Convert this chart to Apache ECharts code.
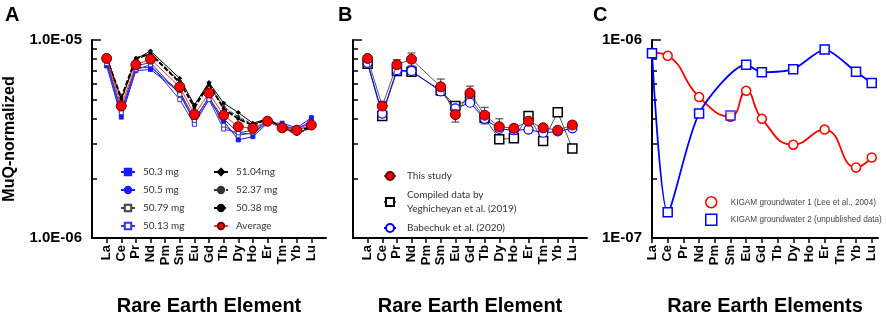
<!DOCTYPE html>
<html>
<head>
<meta charset="utf-8">
<script src="https://cdn.jsdelivr.net/npm/echarts@6/dist/echarts.min.js"></script>
<style>html,body{margin:0;padding:0;background:#fff}#main{width:886px;height:321px}</style>
</head>
<body>
<div id="main"></div>
<script>
var elements = ['La', 'Ce', 'Pr', 'Nd', 'Pm', 'Sm', 'Eu', 'Gd', 'Tb', 'Dy', 'Ho', 'Er', 'Tm', 'Yb', 'Lu'];

// all values in units of 1e-6 (MuQ-normalized)
// panel A - replicate digests
var s503  = [7.4, 4.08, 7.0, 7.1, null, 5.44, 3.83, 5.0, 3.9, 3.13, 3.25, 3.8, 3.8, 3.6, 4.05];
var s505  = [7.8, 4.2, 7.2, 7.3, null, 5.5, 4.0, 5.1, 4.0, 3.4, 3.35, 3.85, 3.65, 3.55, 3.9];
var s5079 = [7.9, 4.4, 7.4, 7.7, null, 5.3, 3.9, 5.2, 3.7, 3.3, 3.4, 3.9, 3.6, 3.5, 3.7];
var s5013 = [7.6, 4.3, 7.1, 7.5, null, 5.0, 3.75, 5.0, 3.55, 3.4, 3.5, 3.9, 3.7, 3.55, 3.8];
var s5104 = [8.3, 5.0, 8.0, 8.8, null, 6.4, 4.7, 6.1, 4.8, 4.3, 3.8, 4.0, 3.6, 3.4, 3.6];
var s5237 = [8.2, 4.9, 7.9, 8.6, null, 6.2, 4.5, 5.9, 4.6, 4.1, 3.75, 3.95, 3.55, 3.35, 3.6];
var s5038 = [8.1, 5.1, 8.1, 8.5, null, 6.1, 4.6, 6.0, 4.5, 4.0, 3.7, 4.0, 3.6, 3.45, 3.65];
var average = [8.07, 4.64, 7.5, 8.0, null, 5.8, 4.2, 5.4, 4.17, 3.65, 3.58, 3.89, 3.6, 3.5, 3.72];

// panel B - comparison with literature
var averageErr = [0.2, 0.25, 0.45, 0.6, null, 0.55, 0.35, 0.45, 0.4, 0.35, 0.15, 0.12, 0.12, 0.1, 0.15];
var yeghicheyan = [7.58, 4.13, 6.97, 6.91, null, 5.58, 4.64, 5.05, 4.05, 3.15, 3.19, 4.13, 3.09, 4.31, 2.83];
var babechuk = [7.67, 4.25, 7.04, 6.98, null, 5.5, 4.52, 4.82, 4.0, 3.56, 3.5, 3.53, 3.4, 3.45, 3.58];

// panel C - KIGAM groundwater
var gw1 = [0.863, 0.832, null, 0.515, null, 0.41, 0.554, 0.40, null, 0.296, null, 0.353, null, 0.227, 0.255];
var gw2 = [0.857, 0.135, null, 0.425, null, 0.416, 0.75, 0.687, null, 0.712, null, 0.895, null, 0.691, 0.607];
var gw2Unlinked = ['Sm']; // marker drawn but not on the line

var U = 1e-6;
var FONT = 'Liberation Sans';

function pairs(vals, off, skip) {
  var out = [];
  vals.forEach(function (v, i) {
    if (v == null) return;
    if (skip && skip.indexOf(elements[i]) >= 0) return;
    out.push([i + off, v * U]);
  });
  return out;
}

function minorLogTicks(lo) {
  var out = [];
  for (var k = 2; k <= 9; k++) out.push(Math.log10(k * lo));
  return out;
}

function xAx(grid, min, max, off, name) {
  var ticks = elements.map(function (e, i) { return i + off; });
  return {
    type: 'value', gridIndex: grid, min: min, max: max,
    name: name, nameLocation: 'middle', nameGap: 58,
    nameTextStyle: { fontFamily: FONT, fontWeight: 'bold', fontSize: 20, color: '#000' },
    axisLine: { lineStyle: { color: '#000', width: 2 } },
    splitLine: { show: false },
    axisTick: { customValues: ticks, length: 5, lineStyle: { color: '#000', width: 1.5 } },
    axisLabel: {
      customValues: ticks, rotate: 90, margin: 7,
      formatter: function (v) { return elements[Math.round(v - off)]; },
      fontFamily: FONT, fontWeight: 'bold', fontSize: 13, color: '#000'
    }
  };
}

function yMajor(grid, lo, hi, fmt, name) {
  return {
    type: 'log', gridIndex: grid, min: lo, max: hi, logBase: 10, position: 'left',
    name: name || '', nameLocation: 'middle', nameGap: 74,
    nameTextStyle: { fontFamily: FONT, fontWeight: 'bold', fontSize: 16, color: '#000' },
    axisLine: { show: true, lineStyle: { color: '#000', width: 2 } },
    splitLine: { show: false },
    axisTick: { inside: true, length: 9, lineStyle: { color: '#000', width: 1.5 } },
    axisLabel: {
      show: !!fmt, margin: 10, formatter: fmt,
      fontFamily: FONT, fontWeight: 'bold', fontSize: 15, color: '#000'
    }
  };
}

function yMinor(grid, lo) {
  return {
    type: 'value', gridIndex: grid, position: 'left', offset: 0,
    min: Math.log10(lo), max: Math.log10(lo) + 1,
    axisLine: { show: false }, splitLine: { show: false },
    axisLabel: { show: false },
    axisTick: { inside: true, length: 5, customValues: minorLogTicks(lo), lineStyle: { color: '#000', width: 1.5 } }
  };
}

function lineS(name, data, xi, yi, color, symbol, size, opts) {
  opts = opts || {};
  return {
    name: name, type: 'line', xAxisIndex: xi, yAxisIndex: yi, data: data,
    symbol: symbol, symbolSize: size, showSymbol: true,
    smooth: opts.smooth || false,
    lineStyle: { color: opts.lineColor || color, width: opts.width || 1, type: opts.dash || 'solid' },
    itemStyle: { color: opts.fill || color, borderColor: opts.border || color, borderWidth: opts.bw || 1 },
    z: opts.z || 2
  };
}

var fmtA = function (v) {
  var e = Math.round(Math.log10(v));
  return '1.0E-' + String(-e).padStart(2, '0');
};
var fmtC = function (v) {
  var e = Math.round(Math.log10(v));
  return '1E-' + String(-e).padStart(2, '0');
};

var errData = [];
average.forEach(function (v, i) {
  if (v == null) return;
  errData.push([i + 1, (v - averageErr[i]) * U, (v + averageErr[i]) * U]);
});

var legendText = { fontFamily: 'Lato', fontSize: 10, color: '#333' };

var option = {
  animation: false,
  backgroundColor: '#fff',
  grid: [
    { left: 92, top: 40, width: 234, height: 208 },
    { left: 353, top: 40, width: 234, height: 208 },
    { left: 652, top: 40, width: 226, height: 208 }
  ],
  xAxis: [
    xAx(0, 0, 16, 1, 'Rare Earth Element'),
    xAx(1, 0, 16, 1, 'Rare Earth Element'),
    xAx(2, 0, 14.4, 0, 'Rare Earth Elements')
  ],
  yAxis: [
    yMajor(0, 1e-6, 1e-5, fmtA, 'MuQ-normalized'),
    yMinor(0, 1e-6),
    yMajor(1, 1e-6, 1e-5, null),
    yMinor(1, 1e-6),
    yMajor(2, 1e-7, 1e-6, fmtC),
    yMinor(2, 1e-7)
  ],
  legend: [
    {
      left: 120, top: 166, padding: 0, orient: 'vertical', itemWidth: 14, itemHeight: 8, itemGap: 6,
      selectedMode: false, textStyle: Object.assign({ lineHeight: 12, padding: [0, 0, 0, 3] }, legendText),
      data: ['50.3 mg', '50.5 mg', '50.79 mg', '50.13 mg']
    },
    {
      left: 213, top: 166, padding: 0, orient: 'vertical', itemWidth: 14, itemHeight: 8, itemGap: 6,
      selectedMode: false, textStyle: Object.assign({ lineHeight: 12, padding: [0, 0, 0, 3] }, legendText),
      data: ['51.04mg', '52.37 mg', '50.38 mg', 'Average']
    },
    {
      left: 383, top: 169, padding: 0, orient: 'vertical', itemWidth: 12, itemHeight: 10, itemGap: 5,
      selectedMode: false, textStyle: Object.assign({ lineHeight: 14, padding: [0, 0, 0, 6] }, legendText),
      data: ['This study', 'Compiled data by\nYeghicheyan et al. (2019)', 'Babechuk et al. (2020)']
    },
    {
      left: 705, top: 196, padding: 0, orient: 'vertical', itemWidth: 11, itemHeight: 11, itemGap: 5,
      selectedMode: false,
      textStyle: { fontFamily: FONT, fontSize: 8.2, color: '#444', padding: [0, 0, 0, 9] },
      data: [
        { name: 'KIGAM groundwater 1 (Lee et al., 2004)', icon: 'circle', itemStyle: { color: '#fff', borderColor: '#ff0000', borderWidth: 1.5 } },
        { name: 'KIGAM groundwater 2 (unpublished data)', icon: 'rect', itemStyle: { color: '#fff', borderColor: '#0000ff', borderWidth: 1.5 } }
      ]
    }
  ],
  graphic: [
    { type: 'text', left: 5, top: 5, style: { text: 'A', font: 'bold 20px "Liberation Sans"', fill: '#000' } },
    { type: 'text', left: 338, top: 5, style: { text: 'B', font: 'bold 20px "Liberation Sans"', fill: '#000' } },
    { type: 'text', left: 593, top: 5, style: { text: 'C', font: 'bold 20px "Liberation Sans"', fill: '#000' } }
  ],
  series: [
    // panel A
    lineS('50.3 mg', pairs(s503, 1), 0, 0, '#1a1aff', 'rect', 4),
    lineS('50.5 mg', pairs(s505, 1), 0, 0, '#1a1aff', 'circle', 4),
    lineS('50.79 mg', pairs(s5079, 1), 0, 0, '#444444', 'rect', 4, { fill: '#fff', border: '#444444' }),
    lineS('50.13 mg', pairs(s5013, 1), 0, 0, '#3333ff', 'rect', 4, { fill: '#fff', border: '#3333ff' }),
    lineS('51.04mg', pairs(s5104, 1), 0, 0, '#000000', 'diamond', 4),
    lineS('52.37 mg', pairs(s5237, 1), 0, 0, '#333333', 'circle', 3, { dash: [4, 2] }),
    lineS('50.38 mg', pairs(s5038, 1), 0, 0, '#000000', 'circle', 3, { dash: [5, 2], width: 2 }),
    lineS('Average', pairs(average, 1), 0, 0, '#ff0000', 'circle', 10, { fill: '#ff0000', border: '#660000', bw: 1, lineColor: '#ff3333', z: 5 }),
    // panel B
    {
      type: 'custom', xAxisIndex: 1, yAxisIndex: 2, data: errData, z: 1,
      renderItem: function (params, api) {
        var x = api.value(0);
        var lo = api.coord([x, api.value(1)]);
        var hi = api.coord([x, api.value(2)]);
        var st = { stroke: '#333', lineWidth: 1 };
        return {
          type: 'group', children: [
            { type: 'line', shape: { x1: lo[0], y1: lo[1], x2: hi[0], y2: hi[1] }, style: st },
            { type: 'line', shape: { x1: lo[0] - 4, y1: lo[1], x2: lo[0] + 4, y2: lo[1] }, style: st },
            { type: 'line', shape: { x1: hi[0] - 4, y1: hi[1], x2: hi[0] + 4, y2: hi[1] }, style: st }
          ]
        };
      }
    },
    lineS('Compiled data by\nYeghicheyan et al. (2019)', pairs(yeghicheyan, 1), 1, 2, '#000000', 'rect', 9,
      { fill: '#fff', border: '#000', bw: 1.5, lineColor: '#555', z: 3 }),
    lineS('Babechuk et al. (2020)', pairs(babechuk, 1), 1, 2, '#0000ff', 'circle', 9,
      { fill: '#fff', border: '#0000ff', bw: 1.2, z: 3 }),
    lineS('This study', pairs(average, 1), 1, 2, '#ff0000', 'circle', 10,
      { fill: '#ff0000', border: '#660000', bw: 1, lineColor: '#555', z: 5 }),
    // panel C
    lineS('KIGAM groundwater 1 (Lee et al., 2004)', pairs(gw1, 0), 2, 4, '#ff0000', 'circle', 9,
      { fill: '#fff', border: '#ff0000', bw: 1.5, width: 1.8, smooth: 0.5, z: 3 }),
    lineS('KIGAM groundwater 2 (unpublished data)', pairs(gw2, 0, gw2Unlinked), 2, 4, '#0000ff', 'rect', 9,
      { fill: '#fff', border: '#0000ff', bw: 1.5, width: 1.8, smooth: 0.25, z: 4 }),
    {
      type: 'scatter', xAxisIndex: 2, yAxisIndex: 4, symbol: 'rect', symbolSize: 9, z: 4,
      data: pairs(gw2, 0).filter(function (p) { return gw2Unlinked.indexOf(elements[p[0]]) >= 0; }),
      itemStyle: { color: '#fff', borderColor: '#0000ff', borderWidth: 1.5 }
    }
  ]
};

var chart = echarts.init(document.getElementById('main'));
chart.setOption(option);
</script>
</body>
</html>
